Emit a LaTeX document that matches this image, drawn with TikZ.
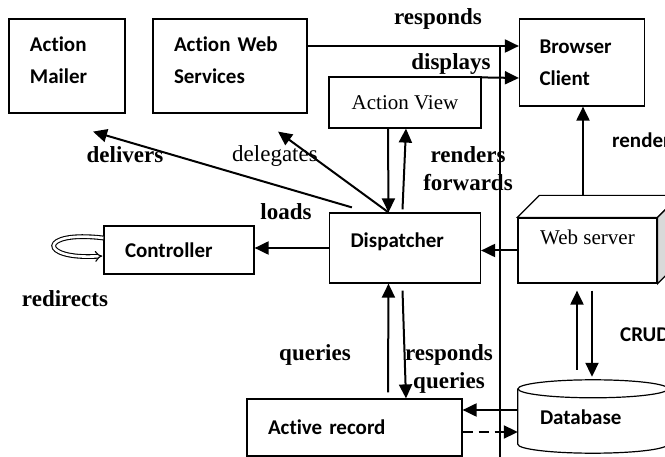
\documentclass[tikz,border=0pt]{standalone}
\usepackage{fontspec}
\setmainfont{Liberation Serif}
\setsansfont{Carlito}[Ligatures=NoCommon]
\usepackage{tikz}
\usetikzlibrary{arrows.meta,positioning}
\usepackage{xcolor}
\definecolor{sidegray}{RGB}{217,217,217}
\tikzstyle{arrow} = [line width=2pt,-{Triangle[length=14pt,width=13pt]}]
\tikzstyle{module} = [rectangle, draw, line width=1.2pt, fill=white, align=left, inner xsep=21pt, inner ysep=0pt, font=\fontsize{21}{32}\selectfont\sffamily\bfseries]
\tikzstyle{plainbox} = [rectangle, draw, line width=1.2pt, fill=white, inner sep=0pt, font=\fontsize{21}{25}\selectfont]
\tikzstyle{verb} = [inner sep=0pt, align=center, font=\fontsize{23}{28}\selectfont\bfseries]

\begin{document}
\begin{tikzpicture}[x=1pt, y=-1pt]
\clip (0,0) rectangle (665,457);
% separator
\draw[line width=1.2pt] (500,46) -- (500,460);

% Modules
\node (mailer) [module, text width=74pt, minimum height=94pt, text depth=43pt] at (67,66) {Action\\Mailer};
\node (aws) [module, right of=mailer, node distance=163pt, text width=112pt, minimum height=94pt, text depth=43pt] {Action Web\\Services};
\node (browser) [module, text width=85pt, inner xsep=20pt, minimum height=87pt] at (582,62.5) {Browser\\Client};
\node (view) [plainbox, minimum width=152pt, minimum height=51pt] at (405,102.5) {Action View};
\node (disp) [module, below of=view, node distance=145.5pt, text width=109pt, minimum height=70pt, text depth=16pt] {Dispatcher};
\node (ctrl) [module, text width=108pt, minimum height=48pt] at (179,250) {Controller};
\node (ar) [module, text width=173pt, minimum height=57pt] at (354.5,427.5) {Active record};

% Web server (box)
\node (web) [plainbox, minimum width=139pt, minimum height=65pt, text depth=27pt] at (587.5,250.5) {Web server};
\draw[line width=1.2pt, fill=white] (web.north west) -- ([shift={(22pt,22pt)}]web.north west) -- ([shift={(22pt,22pt)}]web.north east) -- (web.north east) -- cycle;
\draw[line width=1.2pt, fill=sidegray] (web.north east) -- ([shift={(22pt,22pt)}]web.north east) -- ([shift={(22pt,22pt)}]web.south east) -- (web.south east) -- cycle;

% Database (cylinder)
\node (db) [rectangle, inner sep=0pt, minimum width=150pt, minimum height=73pt] at (593,416.5) {};
\draw[line width=1.2pt, fill=white] ([yshift=-9pt]db.north west) -- ([yshift=9pt]db.south west) arc[start angle=180, end angle=360, x radius=75pt, y radius=9pt] -- ([yshift=-9pt]db.north east);
\draw[line width=1.2pt] ([yshift=-9pt]db.north) ellipse [x radius=75pt, y radius=9pt];
\node (dbtext) [anchor=west, inner sep=0pt, font=\fontsize{21}{25}\selectfont\sffamily\bfseries] at ([xshift=22pt,yshift=-1pt]db.west) {Database};

% Connectors
\draw[arrow] ([yshift=20pt]aws.east) -- ([yshift=16.5pt]browser.west);
\draw[arrow] ([yshift=-1pt]view.north east) -- ([yshift=-15.5pt]browser.west);
\draw[arrow] ([xshift=-17pt]view.south) -- ([xshift=-16.5pt]disp.north);
\draw[arrow] ([xshift=-2.5pt,yshift=3pt]disp.north) -- ([xshift=1pt]view.south);
\draw[arrow] ([xshift=23pt,yshift=5pt]disp.north west) -- ([xshift=26pt,yshift=-18pt]mailer.south);
\draw[arrow] ([xshift=-16.5pt]disp.north) -- ([xshift=48pt,yshift=-18pt]aws.south);
\draw[arrow] (disp.west) -- (disp.west -| ctrl.east);
\draw[line width=1.1pt, double, double distance=2.6pt, -{Implies}] ([yshift=12pt]ctrl.west) .. controls (38,230) and (38,260) .. ([xshift=-1pt,yshift=-6pt]ctrl.west);
\draw[arrow] (web.west) -- (web.west -| disp.east);
\draw[arrow] ([xshift=-4.5pt,yshift=22pt]web.north) -- ([xshift=1pt]browser.south);
\draw[arrow] ([xshift=-16pt,yshift=10pt]db.north) -- ([xshift=-10.5pt,yshift=-7pt]web.south);
\draw[arrow] ([xshift=4.5pt,yshift=-7pt]web.south) -- ([xshift=-1pt,yshift=3pt]db.north);
\draw[arrow] ([yshift=6.5pt]db.west) -- ([yshift=17.5pt]ar.east);
\draw[arrow, dash pattern=on 10pt off 6pt] ([yshift=-4.5pt]ar.east) -- ([yshift=-15.5pt]db.west);
\draw[arrow] ([xshift=33.5pt,yshift=6pt]ar.north) -- ([xshift=-16.5pt]disp.south);
\draw[arrow] ([xshift=-2.5pt,yshift=-7pt]disp.south) -- ([xshift=51.5pt]ar.north);

% Labels
\node (lresponds) [verb] at (438,19) {responds};
\node (ldisplays) [verb] at (451,64) {displays};
\node (lrenders) [verb] at (468,169) {renders\\forwards};
\node (ldelivers) [verb] at (125,155) {delivers};
\node (ldelegates) [verb, font=\fontsize{23}{28}\selectfont] at (275,156) {delegates};
\node (lloads) [verb] at (286,212) {loads};
\node (lredirects) [verb] at (65,299) {redirects};
\node (lqueries) [verb] at (315,355) {queries};
\node (lrespq) [verb] at (449,369) {responds\\queries};
\node (lrender) [anchor=west, inner sep=0pt, font=\fontsize{21}{25}\selectfont\sffamily\bfseries] at (612,140) {renders};
\node (lcrud) [anchor=west, inner sep=0pt, font=\fontsize{21}{25}\selectfont\sffamily\bfseries] at (620,335) {CRUD};
\end{tikzpicture}
\end{document}
